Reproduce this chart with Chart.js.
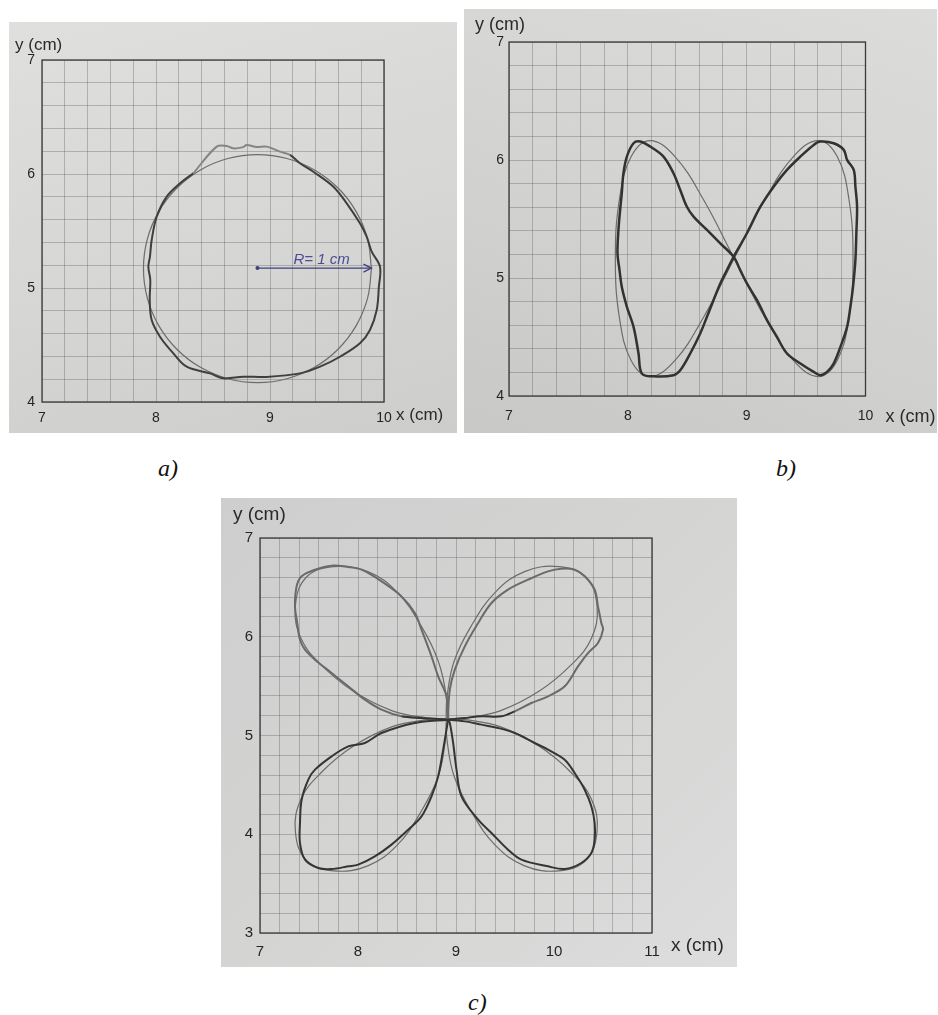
<!DOCTYPE html>
<html>
<head>
<meta charset="utf-8">
<title>Trajectories</title>
<script src="https://cdn.jsdelivr.net/npm/chart.js@4.4.1/dist/chart.umd.min.js"></script>
<style>
  html, body { margin: 0; padding: 0; background: #ffffff; }
  body { width: 938px; height: 1015px; position: relative; overflow: hidden; }
  .photo { position: absolute; }
  .photo canvas { position: absolute; left: 0; top: 0; }
  .cap { position: absolute; font-family: "Liberation Serif", "Times New Roman", serif;
         font-style: italic; font-size: 24px; line-height: 24px; color: #111; }
</style>
</head>
<body>
<div class="photo" style="left:9px;top:22px;width:448px;height:411px;background:linear-gradient(165deg,#dfdfdd 0%,#d6d6d4 55%,#cdcdcb 100%);">
  <canvas id="chartA" width="448" height="411"></canvas>
</div>
<div class="photo" style="left:464px;top:9px;width:473px;height:424px;background:linear-gradient(200deg,#dcdcdb 0%,#d2d2d1 55%,#c8c8c7 100%);">
  <canvas id="chartB" width="473" height="424"></canvas>
</div>
<div class="photo" style="left:221px;top:498px;width:516px;height:469px;background:linear-gradient(135deg,#cecece 0%,#d5d5d4 55%,#dddddd 100%);">
  <canvas id="chartC" width="516" height="469"></canvas>
</div>
<div class="cap" style="left:158px;top:456px;">a)</div>
<div class="cap" style="left:776px;top:456px;">b)</div>
<div class="cap" style="left:468px;top:990px;">c)</div>

<script>
// ---- axis ranges (cm) and grid spacing ----
const xRangeA = [7, 10];
const yRangeA = [4, 7];
const xRangeB = [7, 10];
const yRangeB = [4, 7];
const xRangeC = [7, 11];
const yRangeC = [3, 7];
const gridStep = 0.2;
const xTitle = 'x (cm)';
const yTitle = 'y (cm)';

// ---- a) circle: reference path and recorded path ----
const circleRef = [
  [9.89, 5.17], [9.856, 5.429], [9.756, 5.67], [9.597, 5.877], [9.39, 6.036], [9.149, 6.136],
  [8.89, 6.17], [8.631, 6.136], [8.39, 6.036], [8.183, 5.877], [8.024, 5.67], [7.924, 5.429],
  [7.89, 5.17], [7.924, 4.911], [8.024, 4.67], [8.183, 4.463], [8.39, 4.304], [8.631, 4.204],
  [8.89, 4.17], [9.149, 4.204], [9.39, 4.304], [9.597, 4.463], [9.756, 4.67], [9.856, 4.911],
  [9.89, 5.17]
];
const circleMeas = [
  [8.327, 6.006], [8.211, 5.918], [8.094, 5.801], [8.006, 5.625], [7.962, 5.421], [7.947, 5.275],
  [7.933, 5.187], [7.950, 5.070], [7.945, 4.895], [7.962, 4.719], [8.035, 4.573], [8.152, 4.427],
  [8.269, 4.310], [8.474, 4.251], [8.590, 4.208], [8.766, 4.222], [8.971, 4.220], [9.263, 4.251],
  [9.439, 4.310], [9.614, 4.397], [9.789, 4.515], [9.877, 4.632], [9.936, 4.807], [9.955, 5.011],
  [9.965, 5.187], [9.892, 5.319], [9.848, 5.450], [9.789, 5.567], [9.673, 5.743], [9.556, 5.889],
  [9.380, 6.020], [9.263, 6.094], [9.175, 6.167], [9.088, 6.196], [8.971, 6.240], [8.883, 6.236],
  [8.795, 6.254], [8.766, 6.236], [8.678, 6.225], [8.620, 6.246], [8.532, 6.240], [8.327, 6.006]
];
const radiusArrow = [[8.89, 5.175], [9.89, 5.175]];
const radiusLabel = 'R= 1 cm';

// ---- b) figure eight ----
const eightRef = [
  [8.895, 5.165], [9.154, 5.665], [9.395, 6.031], [9.602, 6.165], [9.761, 6.031], [9.861, 5.665],
  [9.895, 5.165], [9.861, 4.665], [9.761, 4.299], [9.602, 4.165], [9.395, 4.299], [9.154, 4.665],
  [8.895, 5.165], [8.636, 5.665], [8.395, 6.031], [8.188, 6.165], [8.029, 6.031], [7.929, 5.665],
  [7.895, 5.165], [7.929, 4.665], [8.029, 4.299], [8.188, 4.165], [8.395, 4.299], [8.636, 4.665],
  [8.895, 5.165]
];
const eightMeas = [
  [8.890, 5.180], [9.002, 5.379], [9.115, 5.604], [9.227, 5.774], [9.339, 5.916], [9.452, 6.029],
  [9.564, 6.128], [9.620, 6.156], [9.732, 6.142], [9.817, 6.086], [9.845, 6.001], [9.901, 5.916],
  [9.915, 5.774], [9.929, 5.604], [9.923, 5.379], [9.915, 5.152], [9.895, 4.925], [9.873, 4.756],
  [9.845, 4.586], [9.789, 4.416], [9.732, 4.275], [9.676, 4.204], [9.620, 4.176], [9.564, 4.204],
  [9.452, 4.275], [9.339, 4.360], [9.255, 4.501], [9.171, 4.643], [9.087, 4.812], [9.002, 4.954],
  [8.946, 5.067], [8.890, 5.180], [8.778, 5.294], [8.666, 5.407], [8.553, 5.520], [8.497, 5.604],
  [8.441, 5.746], [8.384, 5.888], [8.300, 6.029], [8.188, 6.114], [8.104, 6.156], [8.048, 6.142],
  [7.992, 6.029], [7.963, 5.888], [7.949, 5.718], [7.935, 5.576], [7.921, 5.407], [7.913, 5.209],
  [7.930, 5.067], [7.949, 4.925], [7.992, 4.756], [8.048, 4.586], [8.090, 4.360], [8.118, 4.190],
  [8.216, 4.167], [8.384, 4.176], [8.441, 4.218], [8.525, 4.360], [8.609, 4.530], [8.666, 4.671],
  [8.721, 4.812], [8.778, 4.954], [8.834, 5.067], [8.890, 5.180]
];

// ---- c) four-leaf curve ----
const cloverRef = [
  [8.90, 5.17], [8.90, 5.40], [8.82, 5.75], [8.65, 6.10], [8.40, 6.45], [8.10, 6.66], [7.75, 6.71],
  [7.47, 6.60], [7.36, 6.30], [7.42, 5.98], [7.62, 5.72], [7.95, 5.45], [8.35, 5.25], [8.70, 5.18],
  [8.90, 5.17], [9.10, 5.16], [9.45, 5.09], [9.85, 4.89], [10.18, 4.62], [10.38, 4.36], [10.44, 4.04],
  [10.33, 3.74], [10.05, 3.63], [9.70, 3.68], [9.40, 3.89], [9.15, 4.24], [8.98, 4.59], [8.91, 4.94],
  [8.90, 5.17], [8.91, 5.40], [8.98, 5.75], [9.15, 6.10], [9.40, 6.45], [9.70, 6.66], [10.05, 6.71],
  [10.33, 6.60], [10.44, 6.30], [10.38, 5.98], [10.18, 5.72], [9.85, 5.45], [9.45, 5.25], [9.10, 5.18],
  [8.90, 5.17], [8.70, 5.16], [8.35, 5.09], [7.95, 4.89], [7.62, 4.62], [7.42, 4.36], [7.36, 4.04],
  [7.47, 3.74], [7.75, 3.63], [8.10, 3.68], [8.40, 3.89], [8.65, 4.24], [8.82, 4.59], [8.89, 4.94],
  [8.90, 5.17]
];
const cloverMeas = [
  [8.920, 5.160], [8.903, 5.397], [8.818, 5.599], [8.750, 5.802], [8.648, 6.072], [8.580, 6.240],
  [8.444, 6.409], [8.240, 6.561], [8.036, 6.679], [7.900, 6.706], [7.731, 6.720], [7.561, 6.679],
  [7.425, 6.612], [7.374, 6.511], [7.357, 6.308], [7.380, 6.139], [7.408, 5.970], [7.459, 5.869],
  [7.561, 5.768], [7.731, 5.633], [7.900, 5.498], [8.070, 5.363], [8.240, 5.262], [8.444, 5.194],
  [8.648, 5.177], [8.920, 5.160],
  [9.090, 5.143], [9.260, 5.110], [9.430, 5.076], [9.599, 5.025], [9.803, 4.924], [9.939, 4.857],
  [10.109, 4.755], [10.211, 4.620], [10.313, 4.451], [10.381, 4.283], [10.415, 4.114], [10.415, 3.945],
  [10.381, 3.810], [10.279, 3.709], [10.109, 3.648], [9.939, 3.675], [9.667, 3.743], [9.531, 3.844],
  [9.362, 4.013], [9.226, 4.148], [9.056, 4.384], [9.005, 4.654], [8.971, 4.924], [8.937, 5.127],
  [8.920, 5.160],
  [8.937, 5.464], [8.988, 5.667], [9.090, 5.903], [9.226, 6.139], [9.362, 6.342], [9.531, 6.477],
  [9.735, 6.578], [9.939, 6.662], [10.075, 6.689], [10.211, 6.679], [10.313, 6.612], [10.415, 6.477],
  [10.449, 6.308], [10.483, 6.139], [10.500, 6.072], [10.449, 5.937], [10.347, 5.835], [10.245, 5.700],
  [10.109, 5.498], [9.939, 5.397], [9.769, 5.329], [9.599, 5.245], [9.463, 5.194], [9.260, 5.194],
  [9.090, 5.177], [8.920, 5.160],
  [8.580, 5.127], [8.240, 5.025], [8.070, 4.924], [7.900, 4.890], [7.731, 4.789], [7.561, 4.654],
  [7.493, 4.553], [7.425, 4.350], [7.408, 4.114], [7.408, 3.911], [7.459, 3.743], [7.595, 3.658],
  [7.731, 3.648], [7.900, 3.675], [8.002, 3.692], [8.172, 3.776], [8.342, 3.895], [8.512, 4.046],
  [8.648, 4.181], [8.750, 4.384], [8.818, 4.586], [8.869, 4.857], [8.903, 5.059], [8.920, 5.160]
];

// ---------------------------------------------------------------------------
const FONT = '"Liberation Sans", Arial, sans-serif';
const toXY = pts => pts.map(p => ({ x: p[0], y: p[1] }));

// frame around the plot area, axis titles and the optional radius arrow
const paperPlugin = {
  id: 'paper',
  beforeDatasetsDraw(chart, args, o) {
    const { ctx, chartArea: a } = chart;
    ctx.save();
    ctx.strokeStyle = '#3a3a3a';
    ctx.lineWidth = 1.3;
    ctx.strokeRect(a.left, a.top, a.right - a.left, a.bottom - a.top);
    ctx.restore();
  },
  afterDraw(chart, args, o) {
    const { ctx, chartArea: a, scales } = chart;
    ctx.save();
    ctx.fillStyle = '#2a2a2a';
    ctx.font = o.titleSize + 'px ' + FONT;
    ctx.textAlign = 'left';
    ctx.textBaseline = 'alphabetic';
    ctx.fillText(yTitle, a.left + o.yAt[0], a.top + o.yAt[1]);
    ctx.fillText(xTitle, a.right + o.xAt[0], a.bottom + o.xAt[1]);
    if (o.arrow) {
      const x0 = scales.x.getPixelForValue(o.arrow[0][0]);
      const y0 = scales.y.getPixelForValue(o.arrow[0][1]);
      const x1 = scales.x.getPixelForValue(o.arrow[1][0]);
      const y1 = scales.y.getPixelForValue(o.arrow[1][1]);
      ctx.strokeStyle = '#3e3f7e';
      ctx.fillStyle = '#3e3f7e';
      ctx.lineWidth = 1.3;
      ctx.beginPath(); ctx.moveTo(x0, y0); ctx.lineTo(x1, y1); ctx.stroke();
      ctx.beginPath(); ctx.moveTo(x1 - 8, y1 - 4); ctx.lineTo(x1, y1); ctx.lineTo(x1 - 8, y1 + 4); ctx.stroke();
      ctx.beginPath(); ctx.arc(x0, y0, 2, 0, Math.PI * 2); ctx.fill();
      ctx.fillStyle = '#4b4d96';
      ctx.font = 'italic 15px ' + FONT;
      ctx.fillText(o.arrowLabel, x0 + 36, y0 - 4);
    }
    ctx.restore();
  }
};

function axis(range, pad, fit, isX, size) {
  return {
    type: 'linear',
    min: range[0],
    max: range[1],
    border: { display: false },
    grid: { color: 'rgba(80,80,80,0.32)', lineWidth: 1, drawTicks: false },
    ticks: {
      stepSize: gridStep,
      autoSkip: false,
      maxRotation: 0,
      padding: pad,
      color: '#252525',
      font: { family: FONT, size: size },
      callback: v => (Math.abs(v - Math.round(v)) < 1e-6 ? String(Math.round(v)) : '')
    },
    afterFit: s => { if (isX) { s.height = fit; } else { s.width = fit; } }
  };
}

function makePanel(id, cfg) {
  return new Chart(document.getElementById(id), {
    type: 'scatter',
    data: {
      datasets: [
        {
          data: toXY(cfg.meas),
          showLine: true,
          borderColor: cfg.measColor,
          borderWidth: cfg.measWidth,
          pointRadius: 0,
          tension: 0.35,
          fill: false,
          segment: cfg.segment || {}
        },
        {
          data: toXY(cfg.ref),
          showLine: true,
          borderColor: '#6c6c6c',
          borderWidth: 1.2,
          pointRadius: 0,
          tension: 0.4,
          fill: false
        }
      ]
    },
    options: {
      responsive: false,
      animation: false,
      devicePixelRatio: 1,
      events: [],
      layout: { padding: { left: 0, top: cfg.top, right: cfg.right, bottom: 0 } },
      scales: {
        x: axis(cfg.xRange, cfg.xPad, cfg.bottom, true, cfg.tickSize),
        y: axis(cfg.yRange, cfg.yPad, cfg.left, false, cfg.tickSize)
      },
      plugins: {
        legend: { display: false },
        tooltip: { enabled: false },
        paper: {
          titleSize: cfg.titleSize,
          yAt: cfg.yAt,
          xAt: cfg.xAt,
          arrow: cfg.arrow || null,
          arrowLabel: cfg.arrowLabel || ''
        }
      }
    },
    plugins: [paperPlugin]
  });
}

makePanel('chartA', {
  xRange: xRangeA, yRange: yRangeA, ref: circleRef, meas: circleMeas,
  measColor: '#3f3f3f', measWidth: 2,
  segment: { borderColor: c => (c.p0.parsed.y > 6.1 && c.p0.parsed.x < 9.2 ? '#858585' : '#3f3f3f') },
  left: 33, top: 38, right: 73, bottom: 31, xPad: 8, yPad: 7, tickSize: 14,
  titleSize: 17, yAt: [-27, -10], xAt: [12, 18],
  arrow: radiusArrow, arrowLabel: radiusLabel
});

makePanel('chartB', {
  xRange: xRangeB, yRange: yRangeB, ref: eightRef, meas: eightMeas,
  measColor: '#323232', measWidth: 2.5,
  left: 45, top: 33, right: 71.5, bottom: 37, xPad: 12, yPad: 5, tickSize: 14,
  titleSize: 18, yAt: [-34, -12], xAt: [20, 26]
});

makePanel('chartC', {
  xRange: xRangeC, yRange: yRangeC, ref: cloverRef, meas: cloverMeas,
  measColor: '#3a3a3a', measWidth: 2,
  segment: { borderColor: c => (c.p0.parsed.y > 5.25 || c.p1.parsed.y > 5.25 ? '#6a6a6a' : '#353535') },
  left: 39, top: 40, right: 85, bottom: 34, xPad: 10, yPad: 7, tickSize: 15,
  titleSize: 19, yAt: [-27, -18], xAt: [19, 18]
});
</script>
</body>
</html>
